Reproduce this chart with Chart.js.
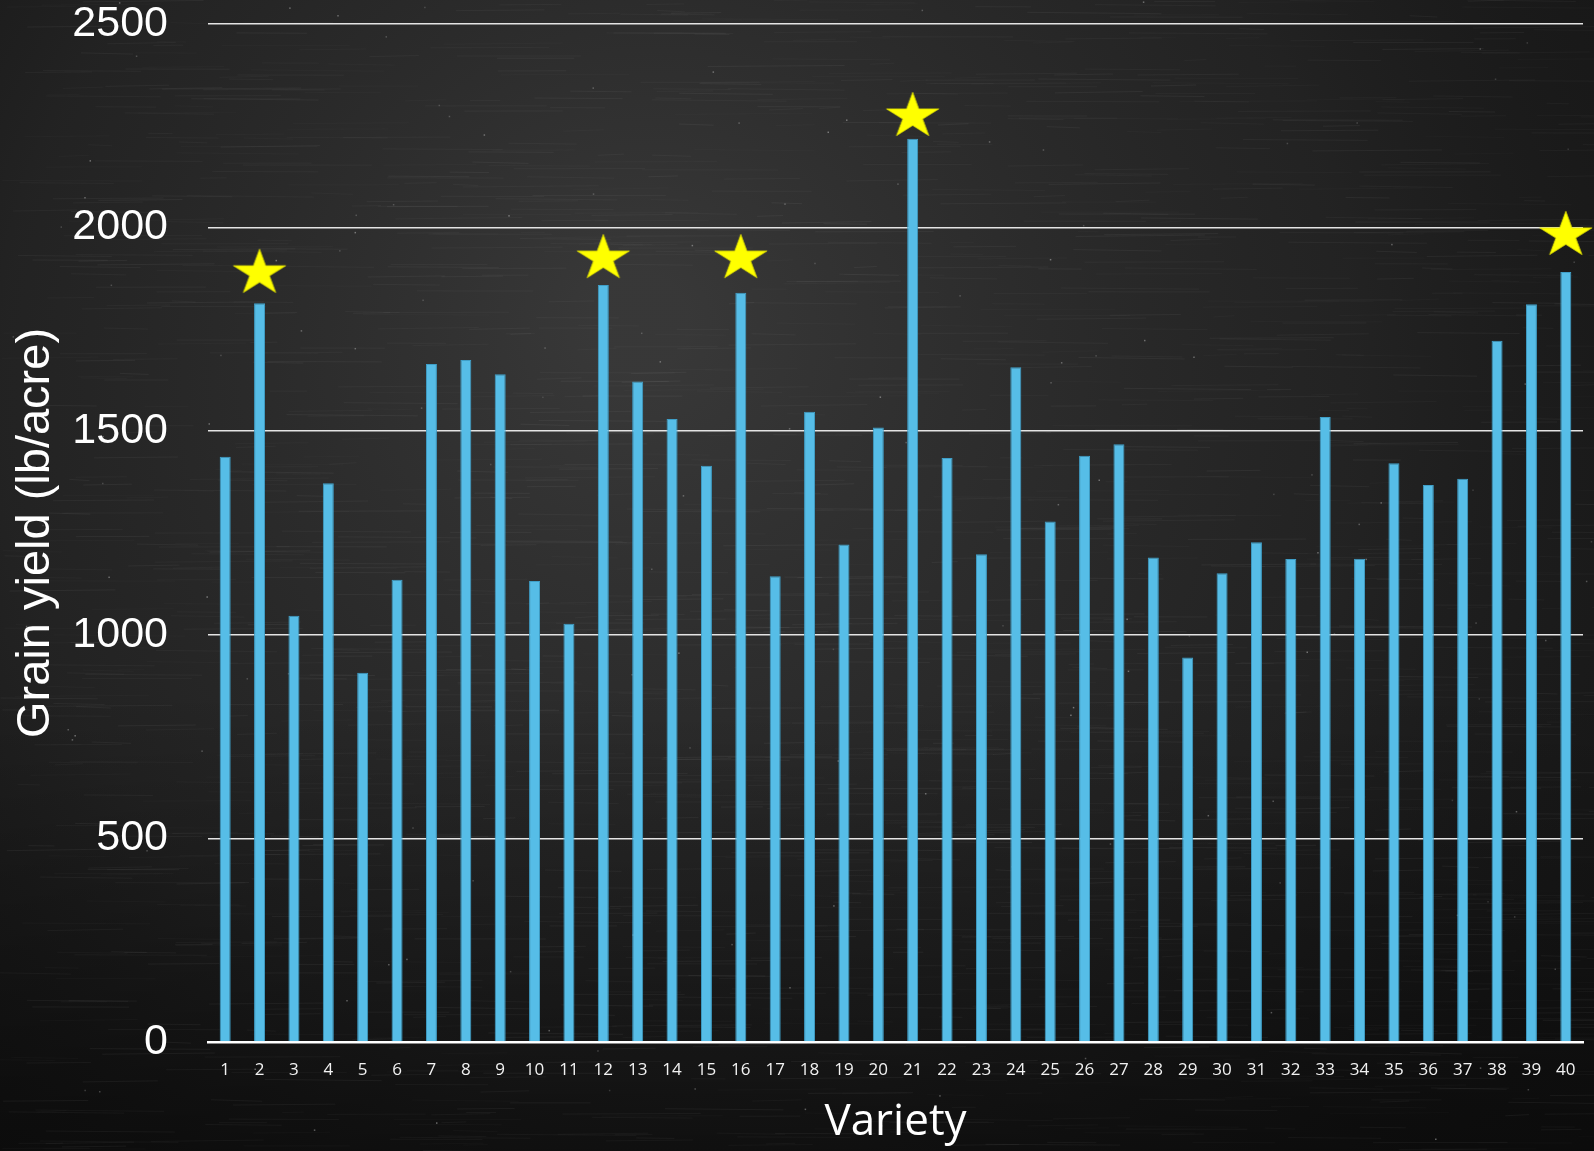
<!DOCTYPE html>
<html>
<head>
<meta charset="utf-8">
<script src="https://cdn.jsdelivr.net/npm/chart.js@4/dist/chart.umd.min.js"></script>
<style>
  html, body { margin: 0; padding: 0; background: #111; }
  #wrap { width: 1594px; height: 1151px; }
</style>
</head>
<body>
<div id="wrap"><canvas id="yield" width="1594" height="1151"></canvas></div>
<script>
// grain yield per variety (lb/acre)
const varieties = ['1','2','3','4','5','6','7','8','9','10','11','12','13','14','15','16','17','18','19','20',
  '21','22','23','24','25','26','27','28','29','30','31','32','33','34','35','36','37','38','39','40'];
const yields = [1437, 1814, 1047, 1372, 907, 1135, 1665, 1675, 1640, 1132,
  1027, 1859, 1622, 1530, 1415, 1840, 1144, 1548, 1222, 1509,
  2218, 1434, 1198, 1657, 1278, 1440, 1468, 1190, 944, 1151,
  1227, 1186, 1535, 1187, 1421, 1368, 1383, 1722, 1812, 1891];
// where the yellow stars sit (null = no star)
const stars = [null, 1894, null, null, null, null, null, null, null, null,
  null, 1930, null, null, null, 1930, null, null, null, null,
  2279, null, null, null, null, null, null, null, null, null,
  null, null, null, null, null, null, null, null, null, 1987];
const yTicks = [0, 500, 1000, 1500, 2000, 2500];

// filled yellow star used as the point style
function makeStar() {
  const c = document.createElement('canvas');
  c.width = 56; c.height = 46;
  const g = c.getContext('2d');
  const R = 27.5, r = R * 0.38, sy = 0.87;
  g.translate(28, 23 + 0.0955 * R * sy);
  g.beginPath();
  for (let i = 0; i < 10; i++) {
    const rad = i % 2 === 0 ? R : r;
    const a = -Math.PI / 2 + i * Math.PI / 5;
    const px = Math.cos(a) * rad, py = Math.sin(a) * rad * sy;
    if (i === 0) g.moveTo(px, py); else g.lineTo(px, py);
  }
  g.closePath();
  g.fillStyle = '#ffff00';
  g.fill();
  g.strokeStyle = '#d8d800';
  g.lineWidth = 0.8;
  g.stroke();
  return c;
}

// chalkboard backdrop (fixed-seed streaks so every render is the same)
const chalkboard = {
  id: 'chalkboard',
  beforeDraw(chart) {
    const { ctx, width, height } = chart;
    ctx.save();
    ctx.fillStyle = '#171717';
    ctx.fillRect(0, 0, width, height);
    let g = ctx.createRadialGradient(width * 0.4, height * 0.28, 50, width * 0.45, height * 0.4, width * 0.75);
    g.addColorStop(0, 'rgba(64,64,64,0.8)');
    g.addColorStop(0.55, 'rgba(46,46,46,0.5)');
    g.addColorStop(1, 'rgba(20,20,20,0)');
    ctx.fillStyle = g;
    ctx.fillRect(0, 0, width, height);
    g = ctx.createLinearGradient(0, height * 0.6, 0, height);
    g.addColorStop(0, 'rgba(0,0,0,0)');
    g.addColorStop(1, 'rgba(0,0,0,0.5)');
    ctx.fillStyle = g;
    ctx.fillRect(0, 0, width, height);

    let seed = 7;
    const rnd = () => { seed = (seed * 16807) % 2147483647; return seed / 2147483647; };
    ctx.lineWidth = 1;
    for (let i = 0; i < 1800; i++) {
      const x = rnd() * width, y = rnd() * height;
      const len = 20 + rnd() * 120;
      ctx.strokeStyle = 'rgba(200,200,200,' + (0.02 + rnd() * 0.045).toFixed(3) + ')';
      ctx.beginPath();
      ctx.moveTo(x, y);
      ctx.lineTo(x + len, y + (rnd() - 0.5) * 3);
      ctx.stroke();
    }
    for (let i = 0; i < 160; i++) {
      const x = rnd() * width, y = rnd() * height;
      ctx.fillStyle = 'rgba(220,220,220,' + (0.15 + rnd() * 0.3).toFixed(3) + ')';
      ctx.fillRect(x, y, 1.5, 1.5);
    }
    ctx.restore();
  }
};

new Chart(document.getElementById('yield'), {
  type: 'bar',
  data: {
    labels: varieties,
    datasets: [
      {
        type: 'line',
        data: stars,
        showLine: false,
        pointStyle: makeStar(),
        pointRadius: 20,
        order: 0
      },
      {
        data: yields,
        backgroundColor: '#56bde7',
        borderColor: '#3f9fc8',
        borderWidth: 1,
        barPercentage: 0.32,
        categoryPercentage: 1,
        order: 1
      }
    ]
  },
  options: {
    responsive: false,
    animation: false,
    layout: { autoPadding: false, padding: { top: 24, right: 11, left: 0, bottom: 0 } },
    plugins: { legend: { display: false }, tooltip: { enabled: false } },
    scales: {
      x: {
        grid: { display: false },
        border: { color: '#ffffff', width: 2.5 },
        ticks: {
          autoSkip: false, maxRotation: 0, padding: 10,
          color: '#f2f2f2',
          font: { family: '"Open Sans", sans-serif', size: 17 }
        },
        title: {
          display: true, text: 'Variety', color: '#ffffff',
          padding: { top: 0, bottom: 2 },
          font: { family: '"Open Sans", sans-serif', size: 44 }
        },
        afterFit(scale) {
          scale.height = 109;
          scale.paddingLeft = 0;
          scale.paddingRight = 0;
        }
      },
      y: {
        min: 0, max: 2500,
        afterBuildTicks(scale) { scale.ticks = yTicks.map(v => ({ value: v })); },
        grid: { color: '#e4e4e4', lineWidth: 1.5, drawTicks: false },
        border: { display: false },
        ticks: {
          padding: 40, color: '#ffffff',
          callback: v => String(v),
          font: { family: '"Liberation Sans", Arial, sans-serif', size: 43, lineHeight: 1 }
        },
        title: {
          display: true, text: 'Grain yield (lb/acre)', color: '#ffffff',
          padding: { top: 8, bottom: 0 },
          font: { family: '"Liberation Sans", Arial, sans-serif', size: 47 }
        },
        afterFit(scale) {
          scale.width = 208;
          scale.paddingTop = 0;
          scale.paddingBottom = 0;
        }
      }
    }
  },
  plugins: [chalkboard]
});
</script>
</body>
</html>
